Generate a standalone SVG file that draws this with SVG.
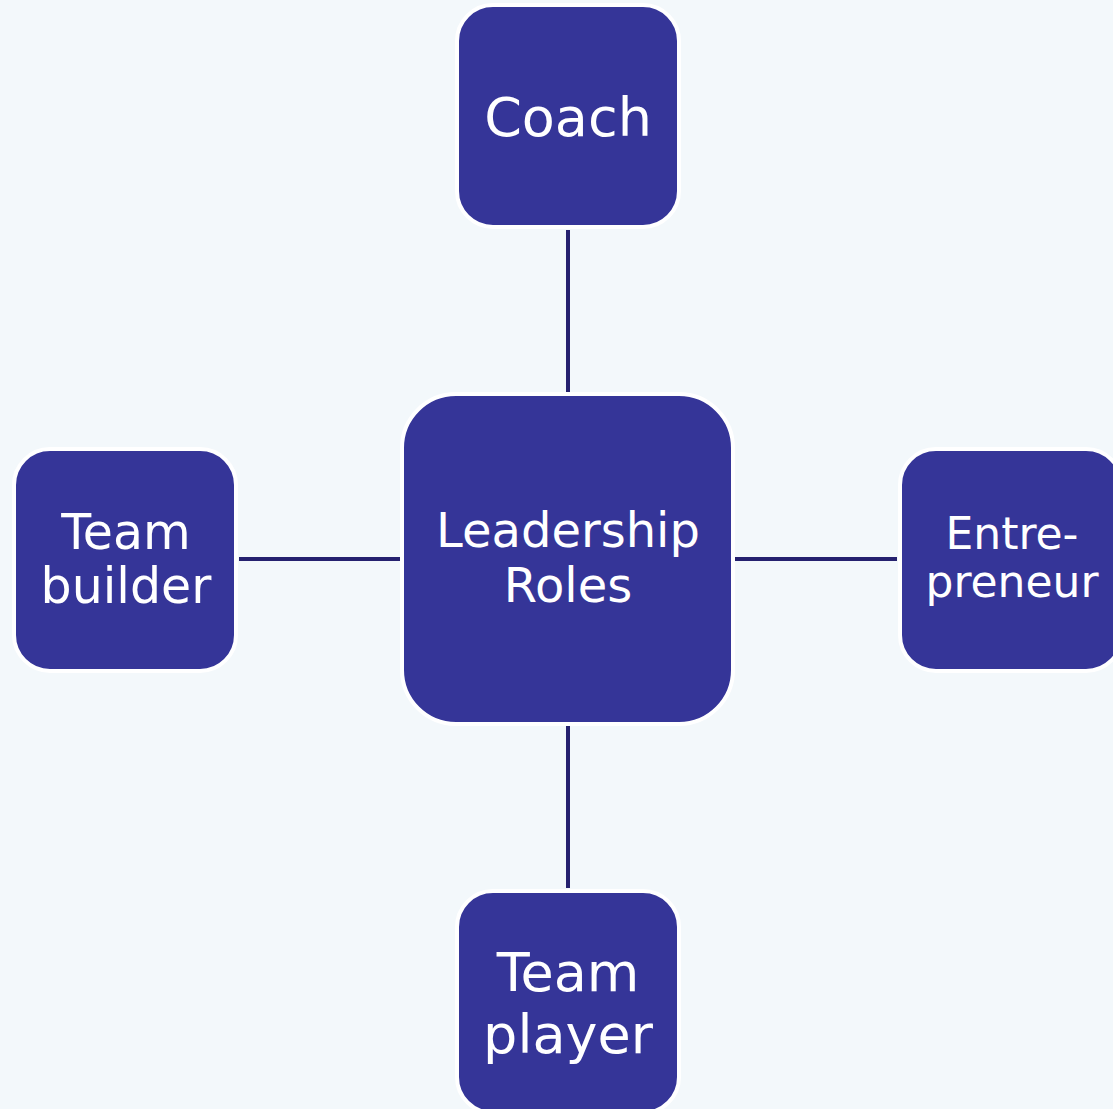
<svg xmlns="http://www.w3.org/2000/svg" width="1113" height="1109" viewBox="0 0 1113 1109">
<style>
.node{fill:#353598;stroke:#ffffff;stroke-width:4}
.lbl{fill:#ffffff;font-family:"DejaVu Sans",Verdana,sans-serif;text-anchor:middle}
.conn{stroke:#25216f;stroke-width:4;fill:none}
</style>
<rect x="0" y="0" width="1113" height="1109" fill="#f3f8fb"/>
<g id="connectors">
<line class="conn" x1="568" y1="230" x2="568" y2="393"/>
<line class="conn" x1="568" y1="726" x2="568" y2="888"/>
<line class="conn" x1="239" y1="559" x2="401" y2="559"/>
<line class="conn" x1="735" y1="559" x2="897" y2="559"/>
</g>
<g id="center">
<rect class="node" x="402" y="394" width="331" height="330" rx="54"/>
<text class="lbl" font-size="48"><tspan x="568" y="547">Leadership</tspan><tspan x="568" y="602">Roles</tspan></text>
</g>
<g id="coach">
<rect class="node" x="457" y="5" width="222" height="222" rx="36"/>
<text class="lbl" font-size="54" x="568" y="136">Coach</text>
</g>
<g id="teambuilder">
<rect class="node" x="14" y="449" width="222" height="222" rx="36"/>
<text class="lbl" font-size="49"><tspan x="126" y="549">Team</tspan><tspan x="126" y="603">builder</tspan></text>
</g>
<g id="entrepreneur">
<rect class="node" x="900" y="449" width="222" height="222" rx="36"/>
<text class="lbl" font-size="44"><tspan x="1012" y="549">Entre-</tspan><tspan x="1012" y="597">preneur</tspan></text>
</g>
<g id="teamplayer">
<rect class="node" x="457" y="891" width="222" height="222" rx="36"/>
<text class="lbl" font-size="54"><tspan x="568" y="991">Team</tspan><tspan x="568" y="1053">player</tspan></text>
</g>
</svg>
